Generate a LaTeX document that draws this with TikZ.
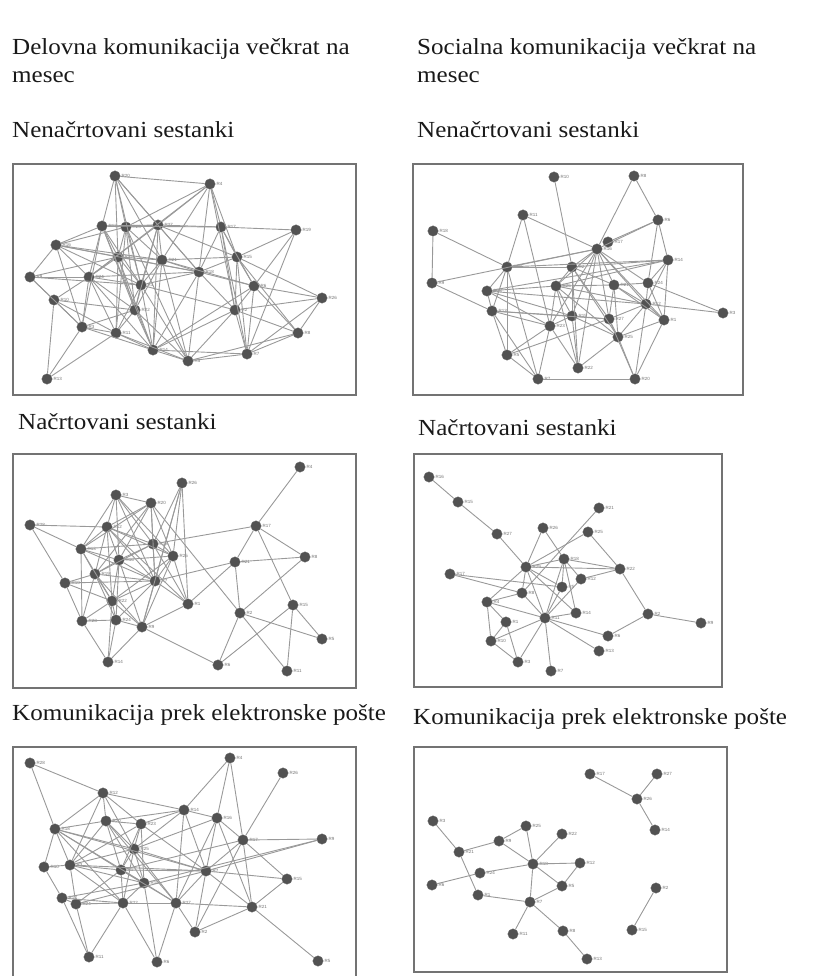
\documentclass[tikz,border=0pt]{standalone}
\usepackage{fontspec}
\setmainfont{Liberation Serif}[FakeStretch=1.09]
\newfontfamily\tagfont{Liberation Sans}
\begin{document}
\begin{tikzpicture}[x=1pt,y=-1pt,
  nd/.style={circle,fill=black!68,draw=black!55,line width=0.3pt,inner sep=0pt,minimum size=10.5pt},
  ed/.style={draw=black!40,line width=0.9pt},
  lab/.style={font=\tagfont\fontsize{4.5}{5}\selectfont,text=black!55,inner sep=0.5pt,label distance=0.5pt},
  frame/.style={draw=black!55,line width=1.6pt},
  ttl/.style={font=\fontsize{23}{28}\selectfont,anchor=base west,inner sep=0pt,text=black!90}]
\useasboundingbox (0,0) rectangle (814,976);

% ---------- headings ----------
\node[ttl] (h1a) at (12,55) {Delovna komunikacija večkrat na};
\node[ttl] (h1b) at (12,83) {mesec};
\node[ttl] (h2a) at (417,55) {Socialna komunikacija večkrat na};
\node[ttl] (h2b) at (417,83) {mesec};
\node[ttl] (t1) at (12,138) {Nenačrtovani sestanki};
\node[ttl] (t2) at (417,138) {Nenačrtovani sestanki};
\node[ttl] (t3) at (18,429) {Načrtovani sestanki};
\node[ttl] (t4) at (418,435) {Načrtovani sestanki};
\node[ttl] (t5) at (12,720) {Komunikacija prek elektronske pošte};
\node[ttl] (t6) at (413,724) {Komunikacija prek elektronske pošte};

% ---------- frames ----------
\draw[frame] (13,164) rectangle (356,395);
\draw[frame] (413,164) rectangle (743,395);
\draw[frame] (13,454) rectangle (356,688);
\draw[frame] (414,454) rectangle (722,687);
\draw[frame] (13,980) -- (13,747) -- (356,747) -- (356,980);
\draw[frame] (414,747) rectangle (727,972);

% ---------- network 1: work, unplanned meetings ----------
\foreach \i/\x/\y/\t in {1/115/176/R20,2/210/184/R4,3/102/226/R12,4/126/227/R23,5/158/225/R27,
  6/221/227/R17,7/296/230/R19,8/56/245/R16,9/118/257/R25,10/162/260/R21,11/199/272/R18,
  12/237/257/R15,13/30/277/R9,14/89/277/R24,15/141/285/R1,16/254/286/R6,17/322/298/R26,
  18/54/300/R10,19/135/310/R22,20/235/310/R2,21/82/327/R3,22/116/333/R11,23/298/333/R8,
  24/153/350/R14,25/188/361/R5,26/247/354/R7,27/47/379/R13}
  \node[nd,label={[lab]right:\t}] (a\i) at (\x,\y) {};
\foreach \u/\v in {1/2,1/3,1/4,1/5,1/9,1/10,1/15,1/11,
  2/4,2/5,2/6,2/11,2/12,2/10,2/14,2/20,
  3/4,3/5,3/8,3/9,3/14,3/15,3/19,3/21,3/6,3/24,
  4/5,4/9,4/10,4/15,4/19,4/22,4/25,4/8,
  5/6,5/10,5/11,5/15,5/19,5/24,5/14,5/12,
  6/7,6/12,6/16,6/20,6/26,6/11,
  7/12,7/26,7/16,
  8/9,8/14,8/13,8/11,8/15,8/21,8/10,
  9/10,9/14,9/15,9/19,9/22,9/11,9/24,
  10/11,10/12,10/15,10/19,10/24,10/25,10/16,
  11/12,11/20,11/15,11/24,11/25,11/16,11/14,
  12/16,12/17,12/20,12/23,12/26,
  13/14,13/18,13/21,13/9,13/15,
  14/15,14/18,14/19,14/21,14/22,14/24,
  15/19,15/22,15/24,15/25,15/20,
  16/17,16/20,16/23,16/26,16/24,
  17/20,17/23,17/26,
  18/21,18/22,18/27,18/19,
  19/22,19/24,19/25,19/21,
  20/24,20/25,20/26,20/23,
  21/22,21/24,21/27,
  22/24,22/25,22/27,
  24/25,24/26,25/26,25/23,23/26}
  \draw[ed] (a\u) -- (a\v);

% ---------- network 2: social, unplanned meetings ----------
\foreach \i/\x/\y/\t in {1/554/177/R10,2/634/176/R8,3/523/215/R11,4/658/220/R6,5/433/231/R18,
  6/608/242/R17,7/597/249/R16,8/668/260/R14,9/507/267/R19,10/572/267/R2,11/432/283/R9,
  12/487/291/R28,13/556/286/R26,14/614/285/R21,15/648/283/R24,16/646/304/R12,17/723/313/R3,
  18/492/311/R13,19/572/316/R15,20/609/319/R27,21/664/320/R1,22/550/326/R23,23/618/337/R25,
  24/507/355/R5,25/578/368/R22,26/538/379/R7,27/635/379/R20}
  \node[nd,label={[lab]right:\t}] (b\i) at (\x,\y) {};
\foreach \u/\v in {1/10,2/7,2/4,3/9,3/22,3/7,4/7,4/6,4/8,4/15,5/9,5/11,
  11/7,11/18,9/10,9/12,9/18,9/24,9/26,9/7,9/8,
  7/10,7/13,7/14,7/15,7/16,7/19,7/20,7/22,7/25,7/21,
  10/13,10/14,10/19,10/20,10/23,10/25,10/8,
  8/15,8/16,8/21,8/12,8/13,
  12/13,12/18,12/22,12/19,12/16,
  13/14,13/19,13/22,13/25,13/16,13/23,
  14/15,14/16,14/20,14/23,14/21,
  15/16,15/21,15/17,16/17,16/20,16/21,16/23,16/27,
  18/22,18/24,18/19,18/26,18/20,
  19/20,19/22,19/23,19/25,20/23,20/27,20/24,21/23,21/27,
  22/24,22/26,22/25,23/27,23/25,24/26,26/27}
  \draw[ed] (b\u) -- (b\v);

% ---------- network 3: work, planned meetings ----------
\foreach \i/\x/\y/\t in {1/300/467/R4,2/182/483/R26,3/116/495/R3,4/151/503/R20,5/30/525/R28,
  6/107/527/R12,7/256/526/R17,8/81/549/R13,9/153/544/R18,10/173/556/R25,11/305/557/R8,
  12/119/560/R16,13/235/562/R21,14/95/574/R19,15/65/583/R10,16/155/581/R7,17/112/601/R22,
  18/188/604/R1,19/293/605/R15,20/240/613/R2,21/82/621/R23,22/116/620/R24,23/142/627/R9,
  24/322/639/R5,25/108/662/R14,26/218/665/R6,27/287/671/R11}
  \node[nd,label={[lab]right:\t}] (c\i) at (\x,\y) {};
\foreach \u/\v in {1/7,7/9,7/13,7/11,7/19,13/11,13/20,13/16,13/18,11/20,
  19/24,19/27,19/26,20/24,20/27,20/26,4/20,23/26,
  2/9,2/10,2/16,2/18,2/23,5/6,5/8,5/15,
  3/4,3/6,3/9,3/8,3/12,3/10,3/16,
  4/6,4/9,4/10,4/12,4/16,4/8,4/14,
  6/8,6/9,6/10,6/12,6/14,6/16,6/17,6/18,
  8/12,8/14,8/21,8/16,8/9,8/17,
  9/10,9/12,9/16,9/14,9/18,
  10/12,10/16,10/18,10/23,10/17,
  12/14,12/16,12/17,12/22,12/23,
  14/16,14/17,14/21,14/22,14/23,
  15/14,15/21,15/16,15/17,
  16/17,16/22,16/23,16/18,
  17/21,17/22,17/23,17/25,21/22,21/25,22/23,22/25,23/25,18/23}
  \draw[ed] (c\u) -- (c\v);

% ---------- network 4: social, planned meetings ----------
\foreach \i/\x/\y/\t in {1/429/477/R16,2/458/502/R15,3/599/508/R21,4/497/534/R27,5/543/528/R26,
  6/588/532/R25,7/564/559/R18,8/526/567/R29,9/620/569/R22,10/450/574/R17,11/581/579/R12,
  12/562/587/R5,13/522/593/R8,14/487/602/R4,15/576/613/R14,16/648/614/R2,17/701/623/R9,
  18/506/622/R1,19/545/618/R11,20/608/636/R6,21/491/641/R10,22/599/651/R13,23/518/662/R3,
  24/551/671/R7}
  \node[nd,label={[lab]right:\t}] (d\i) at (\x,\y) {};
\foreach \u/\v in {1/2,2/4,4/8,5/8,5/7,6/9,3/13,6/8,
  7/9,7/11,7/15,7/19,7/12,7/8,8/13,8/12,8/15,8/19,8/14,8/9,
  10/13,10/12,11/9,11/19,12/19,13/14,13/19,14/21,14/18,14/19,
  18/23,18/21,19/24,19/23,19/20,19/22,19/21,19/15,
  9/16,16/17,16/20,21/23}
  \draw[ed] (d\u) -- (d\v);

% ---------- network 5: work, e-mail ----------
\foreach \i/\x/\y/\t in {1/30/763/R28,2/230/758/R4,3/283/773/R26,4/103/793/R12,5/184/810/R14,
  6/217/818/R16,7/106/821/R20,8/141/824/R23,9/55/829/R18,10/243/840/R17,11/322/839/R9,
  12/134/849/R25,13/44/867/R10,14/70/865/R3,15/121/870/R1,16/206/871/R7,17/287/879/R15,
  18/144/883/R19,19/62/898/R13,20/76/904/R24,21/123/903/R22,22/176/903/R27,23/252/907/R21,
  24/195/932/R2,25/89/957/R11,26/157/962/R6,27/318/961/R5}
  \node[nd,label={[lab]right:\t}] (e\i) at (\x,\y) {};
\foreach \u/\v in {1/4,1/9,4/5,4/7,4/8,4/9,4/12,4/14,2/5,2/6,2/10,3/10,
  5/6,5/8,5/12,5/16,5/22,5/7,6/10,6/16,6/22,6/23,6/12,
  10/11,10/23,10/17,10/16,10/24,10/15,11/16,11/18,17/23,17/16,
  23/27,23/24,23/16,23/22,
  7/8,7/12,7/9,7/14,7/15,7/18,7/22,8/12,8/15,8/18,8/16,8/14,
  9/14,9/15,9/12,9/21,9/16,9/18,12/15,12/18,12/14,12/16,12/21,12/22,
  13/14,13/19,13/9,14/15,14/18,14/20,14/21,14/16,
  15/18,15/21,15/20,15/22,15/16,18/21,18/22,18/26,18/19,
  19/20,19/21,19/25,20/21,20/25,20/16,21/22,21/26,21/25,
  22/24,22/26,22/16,16/24}
  \draw[ed] (e\u) -- (e\v);

% ---------- network 6: social, e-mail ----------
\foreach \i/\x/\y/\t in {1/590/774/R17,2/657/774/R27,3/637/799/R26,4/655/830/R14,5/433/821/R3,
  6/526/826/R25,7/499/841/R9,8/562/834/R22,9/459/852/R21,10/533/864/R18,11/580/863/R12,
  12/480/873/R24,13/432/885/R6,14/656/888/R2,15/562/886/R5,16/478/895/R1,17/530/902/R7,
  18/513/934/R11,19/563/931/R8,20/632/930/R15,21/587/959/R13}
  \node[nd,label={[lab]right:\t}] (f\i) at (\x,\y) {};
\foreach \u/\v in {1/3,2/3,3/4,14/20,5/9,9/7,7/6,7/10,6/10,8/10,10/11,10/12,
  12/13,10/15,15/11,15/17,10/17,9/16,16/17,17/18,17/19,19/21}
  \draw[ed] (f\u) -- (f\v);
\end{tikzpicture}
\end{document}
